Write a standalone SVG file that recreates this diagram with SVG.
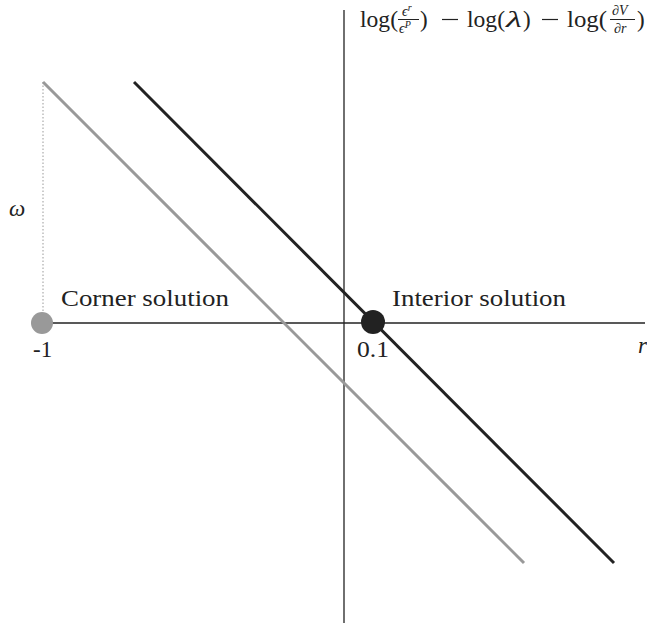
<svg xmlns="http://www.w3.org/2000/svg" width="647" height="623" viewBox="0 0 647 623">
<style>
text{font-family:"Liberation Serif","DejaVu Serif",serif;fill:#222}
.lbl{font-size:23px}
.m{font-size:23px}
.s{font-size:14px;font-style:italic}
.ax{stroke:#222;stroke-width:1.3;fill:none}
</style>
<rect width="647" height="623" fill="#fff"/>
<g id="connectors">
<line class="ax" x1="344" y1="10" x2="344" y2="623"/>
<line class="ax" x1="42" y1="323" x2="645" y2="323"/>
<line x1="43" y1="82" x2="43" y2="323" stroke="#999" stroke-width="1" stroke-dasharray="1.5,2"/>
<line id="gray-line" x1="43" y1="82" x2="524" y2="563" stroke="#999" stroke-width="3"/>
<line id="black-line" x1="134" y1="82" x2="614" y2="563" stroke="#222" stroke-width="3"/>
</g>
<g id="corner">
<circle cx="42" cy="323" r="11" fill="#999"/>
<text class="lbl" x="61" y="306" textLength="168" lengthAdjust="spacingAndGlyphs">Corner solution</text>
<text class="lbl" x="33" y="357">-1</text>
</g>
<g id="interior">
<circle cx="373" cy="322" r="12" fill="#222"/>
<text class="lbl" x="392" y="306" textLength="174" lengthAdjust="spacingAndGlyphs">Interior solution</text>
<text class="lbl" x="357" y="357" textLength="32" lengthAdjust="spacingAndGlyphs">0.1</text>
</g>
<g id="omega"><text class="lbl" x="9" y="216" font-style="italic">ω</text></g>
<g id="r-label"><text class="lbl" x="638" y="353" font-style="italic">r</text></g>
<g id="y-label">
<text class="m" x="360" y="27" textLength="38" lengthAdjust="spacingAndGlyphs">log(</text>
<text class="s" x="402" y="16">ϵ<tspan font-size="10" dy="-5">r</tspan></text>
<line x1="398" y1="19.5" x2="419" y2="19.5" stroke="#222" stroke-width="1"/>
<text class="s" x="399" y="33">ϵ<tspan font-size="10" dy="-5">P</tspan></text>
<text class="m" x="420" y="27">)</text>
<line x1="442" y1="19.5" x2="458" y2="19.5" stroke="#222" stroke-width="1.2"/>
<text class="m" x="467" y="27" textLength="38" lengthAdjust="spacingAndGlyphs">log(</text>
<text class="m" x="506" y="27" font-style="italic" textLength="16" lengthAdjust="spacingAndGlyphs">λ</text>
<text class="m" x="523" y="27">)</text>
<line x1="542" y1="19.5" x2="558" y2="19.5" stroke="#222" stroke-width="1.2"/>
<text class="m" x="567" y="27" textLength="40" lengthAdjust="spacingAndGlyphs">log(</text>
<text class="s" x="612" y="15" font-size="13">∂V</text>
<line x1="610" y1="19.5" x2="635" y2="19.5" stroke="#222" stroke-width="1"/>
<text class="s" x="614" y="33" font-size="13">∂r</text>
<text class="m" x="637" y="27">)</text>
</g>
</svg>
